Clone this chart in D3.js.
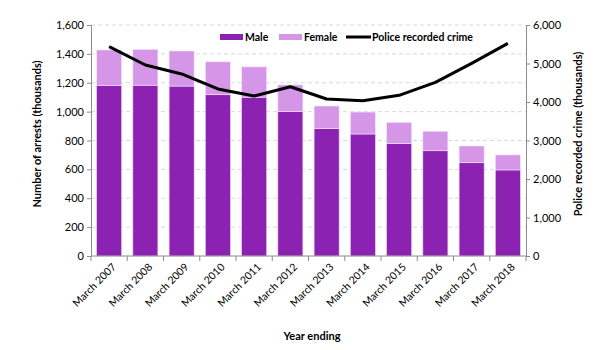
<!DOCTYPE html>
<html>
<head>
<meta charset="utf-8">
<script src="https://cdn.jsdelivr.net/npm/d3@7"></script>
<style>
  body { margin: 0; background: #fff; }
  svg text { font-family: Lato, "Open Sans", sans-serif; fill: #000; }
</style>
</head>
<body>
<svg width="600" height="350"></svg>
<script>
// data (thousands)
var years = ["March 2007", "March 2008", "March 2009", "March 2010", "March 2011", "March 2012",
             "March 2013", "March 2014", "March 2015", "March 2016", "March 2017", "March 2018"];
var male = [1182, 1183, 1177, 1117, 1100, 1000, 882, 845, 780, 729, 646, 596];
var female = [245, 248, 243, 228, 210, 185, 157, 152, 146, 135, 116, 104];
var crime = [5436, 4961, 4728, 4338, 4156, 4397, 4078, 4034, 4173, 4511, 5005, 5524];
var leftTicks = [0, 200, 400, 600, 800, 1000, 1200, 1400, 1600];
var rightTicks = [0, 1000, 2000, 3000, 4000, 5000, 6000];

var maleColor = "#8b22b1", femaleColor = "#d596e8";

var svg = d3.select("svg"),
    plotL = 91, plotR = 526, plotT = 25, plotB = 256;

var x = d3.scaleBand().domain(years).range([plotL, plotR]).paddingInner(0.31).paddingOuter(0.155);
var y = d3.scaleLinear().domain([0, 1600]).range([plotB, plotT]);
var y2 = d3.scaleLinear().domain([0, 6000]).range([plotB, plotT]);

// gridlines
svg.append("g").selectAll("line")
  .data(leftTicks.slice(1))
  .enter().append("line")
  .attr("x1", plotL).attr("x2", plotR)
  .attr("y1", function(d) { return y(d); })
  .attr("y2", function(d) { return y(d); })
  .attr("stroke", "#d9d9d9")
  .attr("stroke-dasharray", "4,3");

// stacked bars
var bars = svg.append("g");
bars.selectAll(".male")
  .data(years)
  .enter().append("rect")
  .attr("x", function(d) { return x(d); })
  .attr("width", x.bandwidth())
  .attr("y", function(d, i) { return y(male[i]); })
  .attr("height", function(d, i) { return plotB - y(male[i]); })
  .attr("fill", maleColor)
  .attr("stroke", "#e9d3f0").attr("stroke-width", 0.6);
bars.selectAll(".female")
  .data(years)
  .enter().append("rect")
  .attr("x", function(d) { return x(d); })
  .attr("width", x.bandwidth())
  .attr("y", function(d, i) { return y(male[i] + female[i]); })
  .attr("height", function(d, i) { return y(male[i]) - y(male[i] + female[i]); })
  .attr("fill", femaleColor)
  .attr("stroke", "#f3e4f8").attr("stroke-width", 0.6);

// crime line
var line = d3.line()
  .x(function(d, i) { return x(years[i]) + x.bandwidth() / 2; })
  .y(function(d) { return y2(d); });
svg.append("path")
  .datum(crime)
  .attr("d", line)
  .attr("fill", "none")
  .attr("stroke", "#000")
  .attr("stroke-width", 3)
  .attr("stroke-linejoin", "round");

// axes
function styleAxis(g) {
  g.selectAll("path, line").attr("stroke", "#8c8c8c");
  g.selectAll("text").style("font-size", "11px").attr("fill", "#000");
}
svg.append("g")
  .attr("transform", "translate(" + plotL + ",0)")
  .call(d3.axisLeft(y).tickValues(leftTicks).tickFormat(d3.format(",")).tickSizeOuter(0).tickSize(4))
  .call(styleAxis);
svg.append("g")
  .attr("transform", "translate(" + plotR + ",0)")
  .call(d3.axisRight(y2).tickValues(rightTicks).tickFormat(d3.format(",")).tickSizeOuter(0).tickSize(4))
  .call(styleAxis);

// x axis with ticks at band boundaries
var xg = svg.append("g").attr("transform", "translate(0," + plotB + ")");
xg.append("line").attr("x1", plotL).attr("x2", plotR).attr("stroke", "#8c8c8c");
xg.selectAll(".tk")
  .data(d3.range(years.length + 1))
  .enter().append("line")
  .attr("x1", function(i) { return plotL + i * (plotR - plotL) / years.length; })
  .attr("x2", function(i) { return plotL + i * (plotR - plotL) / years.length; })
  .attr("y1", 0).attr("y2", 5)
  .attr("stroke", "#8c8c8c");
xg.selectAll(".lbl")
  .data(years)
  .enter().append("text")
  .attr("transform", function(d) {
    return "translate(" + (x(d) + x.bandwidth() / 2 + 5) + ",9) rotate(-45)";
  })
  .attr("text-anchor", "end")
  .attr("dy", "0.35em")
  .style("font-size", "10.5px")
  .text(function(d) { return d; });

// axis titles
svg.append("text")
  .attr("x", 312).attr("y", 340)
  .attr("text-anchor", "middle")
  .style("font-size", "11px").style("font-weight", "bold")
  .text("Year ending");
svg.append("text")
  .attr("transform", "translate(41,134) rotate(-90)")
  .attr("text-anchor", "middle")
  .style("font-size", "11px").style("font-weight", "bold")
  .text("Number of arrests (thousands)");
svg.append("text")
  .attr("transform", "translate(582,134) rotate(-90)")
  .attr("text-anchor", "middle")
  .style("font-size", "11px").style("font-weight", "bold")
  .text("Police recorded crime (thousands)");

// legend
var lg = svg.append("g").style("font-size", "10.5px").style("font-weight", "bold");
lg.append("rect").attr("x", 220).attr("y", 34).attr("width", 23).attr("height", 6).attr("fill", maleColor);
lg.append("text").attr("x", 245).attr("y", 41).text("Male");
lg.append("rect").attr("x", 279).attr("y", 34).attr("width", 23).attr("height", 6).attr("fill", femaleColor);
lg.append("text").attr("x", 304).attr("y", 41).text("Female");
lg.append("line").attr("x1", 346).attr("x2", 371).attr("y1", 37).attr("y2", 37)
  .attr("stroke", "#000").attr("stroke-width", 3);
lg.append("text").attr("x", 372).attr("y", 41).text("Police recorded crime");
</script>
</body>
</html>
